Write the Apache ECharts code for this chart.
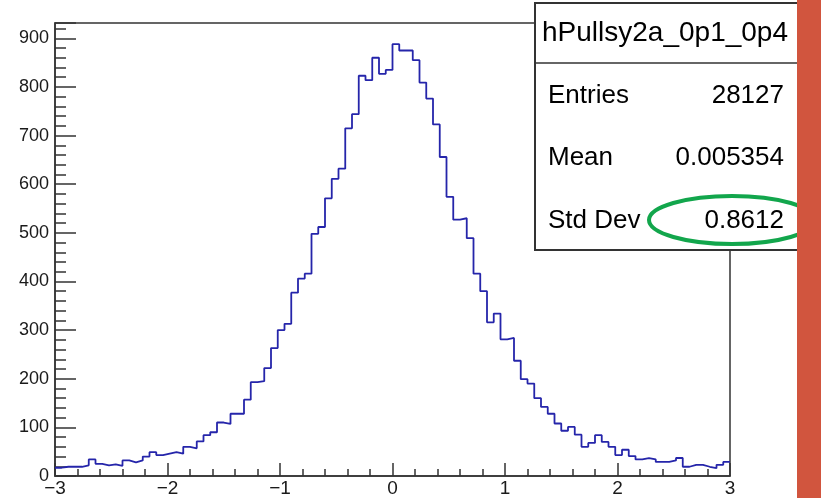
<!DOCTYPE html>
<html>
<head>
<meta charset="utf-8">
<script src="https://cdn.jsdelivr.net/npm/echarts@6/dist/echarts.min.js"></script>
<style>
html,body{margin:0;padding:0;background:#fff;}
#c{width:821px;height:498px;}
</style>
</head>
<body>
<div id="c"></div>
<script>
// Histogram definition
const binLow = -3;
const binHigh = 3;
const counts = [
  17, 19, 19, 19, 22, 34, 25, 22, 24, 21,
  32, 28, 32, 40, 49, 43, 46, 49, 46, 60,
  57, 71, 84, 90, 110, 107, 128, 128, 157, 193,
  195, 222, 263, 300, 313, 377, 406, 416, 498, 512,
  571, 611, 632, 715, 744, 823, 814, 860, 827, 835,
  888, 875, 875, 855, 809, 776, 723, 656, 574, 527,
  530, 489, 416, 380, 316, 334, 281, 284, 237, 199,
  190, 160, 142, 128, 108, 93, 101, 85, 60, 68,
  84, 70, 60, 43, 54, 41, 34, 37, 34, 29,
  29, 32, 37, 19, 23, 23, 19, 16, 23, 29
];
const statsTitle = "hPullsy2a_0p1_0p4";
const statsLabels = ["Entries", "Mean", "Std Dev"];
const statsValues = ["28127", "0.005354", "0.8612"];
const yTickMax = 931.5;

// build step outline from bin edges
const nb = counts.length;
const bw = (binHigh - binLow) / nb;
const pts = [];
for (let i = 0; i < nb; i++) {
  const x0 = binLow + i * bw, x1 = binLow + (i + 1) * bw;
  pts.push([x0, counts[i]]);
  pts.push([x1, counts[i]]);
}

const chart = echarts.init(document.getElementById('c'), null, {renderer: 'canvas'});
const font = '"Liberation Sans", Arial, Helvetica, sans-serif';
const rowY = [96, 158, 221];
const gfx = [
  {type: 'rect', z: 100, shape: {x: 535, y: 3, width: 300, height: 247},
   style: {fill: '#fff', stroke: '#333', lineWidth: 2}},
  {type: 'line', z: 101, shape: {x1: 535, y1: 63, x2: 830, y2: 63},
   style: {stroke: '#333', lineWidth: 1.5}},
  {type: 'text', z: 102, x: 665, y: 33,
   style: {text: statsTitle, font: '28px ' + font, fill: '#000', textAlign: 'center', textVerticalAlign: 'middle'}}
];
statsLabels.forEach((l, i) => {
  gfx.push({type: 'text', z: 102, x: 548, y: rowY[i],
    style: {text: l, font: '26px ' + font, fill: '#000', textAlign: 'left', textVerticalAlign: 'middle'}});
  gfx.push({type: 'text', z: 102, x: 784, y: rowY[i],
    style: {text: statsValues[i], font: '26px ' + font, fill: '#000', textAlign: 'right', textVerticalAlign: 'middle'}});
});
gfx.push({type: 'ellipse', z: 103, shape: {cx: 732, cy: 220, rx: 83, ry: 24},
  style: {fill: 'none', stroke: '#12a64c', lineWidth: 4}});
gfx.push({type: 'rect', z: 110, shape: {x: 797, y: 0, width: 24, height: 498},
  style: {fill: '#d1553e'}});

chart.setOption({
  animation: false,
  backgroundColor: '#fff',
  grid: {left: 55, right: 91, top: 23, bottom: 22, show: true, borderColor: '#333', borderWidth: 1.5, backgroundColor: 'transparent'},
  xAxis: {
    type: 'value', min: binLow, max: binHigh, interval: 1,
    axisLine: {show: true, onZero: false, lineStyle: {color: '#333', width: 1.5}},
    axisTick: {show: true, inside: true, length: 13, lineStyle: {color: '#333', width: 1.5}},
    minorTick: {show: true, splitNumber: 5, length: 7, lineStyle: {color: '#333', width: 1.5}},
    splitLine: {show: false},
    axisLabel: {color: '#1a1a1a', fontSize: 19, fontFamily: font, margin: 3,
      formatter: v => String(v).replace('-', '\u2212')}
  },
  yAxis: {
    type: 'value', min: 0, max: yTickMax, interval: 100,
    axisLine: {show: true, onZero: false, lineStyle: {color: '#333', width: 1.5}},
    axisTick: {show: true, inside: true, length: 21, lineStyle: {color: '#333', width: 1.5}},
    minorTick: {show: true, splitNumber: 5, length: 11, lineStyle: {color: '#333', width: 1.5}},
    splitLine: {show: false},
    axisLabel: {color: '#1a1a1a', fontSize: 18, fontFamily: font, margin: 6,
      showMaxLabel: false}
  },
  series: [{
    type: 'line', data: pts, showSymbol: false, symbol: 'none',
    lineStyle: {color: '#2525aa', width: 1.8}, clip: true
  }],
  graphic: gfx
});
</script>
</body>
</html>
